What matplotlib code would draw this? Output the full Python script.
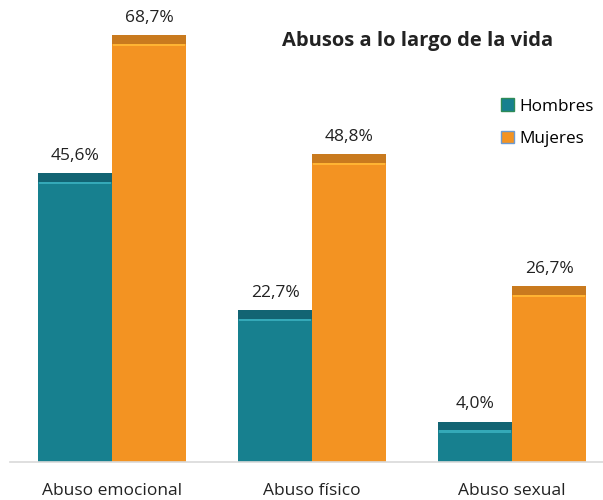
import matplotlib.pyplot as plt
import numpy as np
from matplotlib.patches import Patch

plt.rcParams['font.family'] = ['Open Sans', 'DejaVu Sans']

categorias = ['Abuso emocional', 'Abuso físico', 'Abuso sexual']
hombres = [45.6, 22.7, 4.0]
mujeres = [68.7, 48.8, 26.7]
series = [('Hombres', hombres, '#17808f', '#126473', '#34a9b8'),
          ('Mujeres', mujeres, '#f39322', '#c97a1e', '#ffb433')]

fig = plt.figure(figsize=(6.03, 5.0), dpi=100)
ax = fig.add_axes([0, 0.076, 1, 0.924])

x = np.arange(len(categorias))
width = 0.37
base = -2.7  # el efecto 3D levanta las barras un poco
cap = 1.4    # altura de la tapa oscura

for i, (nombre, vals, color, oscuro, claro) in enumerate(series):
    xs = x + (i - 0.5) * width
    alturas = [v - base for v in vals]
    ax.bar(xs, alturas, width, bottom=base, color=color, edgecolor='none')
    # tapa oscura arriba
    ax.bar(xs, [cap] * len(vals), width, bottom=[v - cap for v in vals],
           color=oscuro, edgecolor='none')
    # brillo debajo de la tapa
    ax.bar(xs, [0.4] * len(vals), width * 0.97, bottom=[v - cap - 0.4 for v in vals],
           color=claro, edgecolor='none')
    for xi, v in zip(xs, vals):
        ax.text(xi, v + 1.6, f'{v:.1f}%'.replace('.', ','), ha='center', va='bottom',
                fontsize=12.5, color='#222222')

ax.set_xlim(-0.56, 2.455)
ax.set_ylim(base, 74.6)
ax.axis('off')
ax.plot([-0.51, 2.455], [base, base], color='#d9d9d9', lw=1.2, clip_on=False)

for xi, c in zip(x, categorias):
    fig.text((112 + 200 * xi) / 603, 1 - 491 / 500, c, ha='center', va='center',
             fontsize=12.5, color='#222222')

fig.text(418 / 603, 1 - 41 / 500, 'Abusos a lo largo de la vida', ha='center', va='center',
         fontsize=14.5, fontweight='bold', color='#222222')

handles = [Patch(facecolor='#17808f', edgecolor='#2e8b57'),
           Patch(facecolor='#f39322', edgecolor='#6c9bd2')]
fig.legend(handles, ['Hombres', 'Mujeres'], loc='upper left', bbox_to_anchor=(486 / 603, 1 - 83 / 500),
           frameon=False, fontsize=12.3, handlelength=0.75, handleheight=0.75, handletextpad=0.3,
           labelspacing=0.95)

plt.savefig('out.png')
